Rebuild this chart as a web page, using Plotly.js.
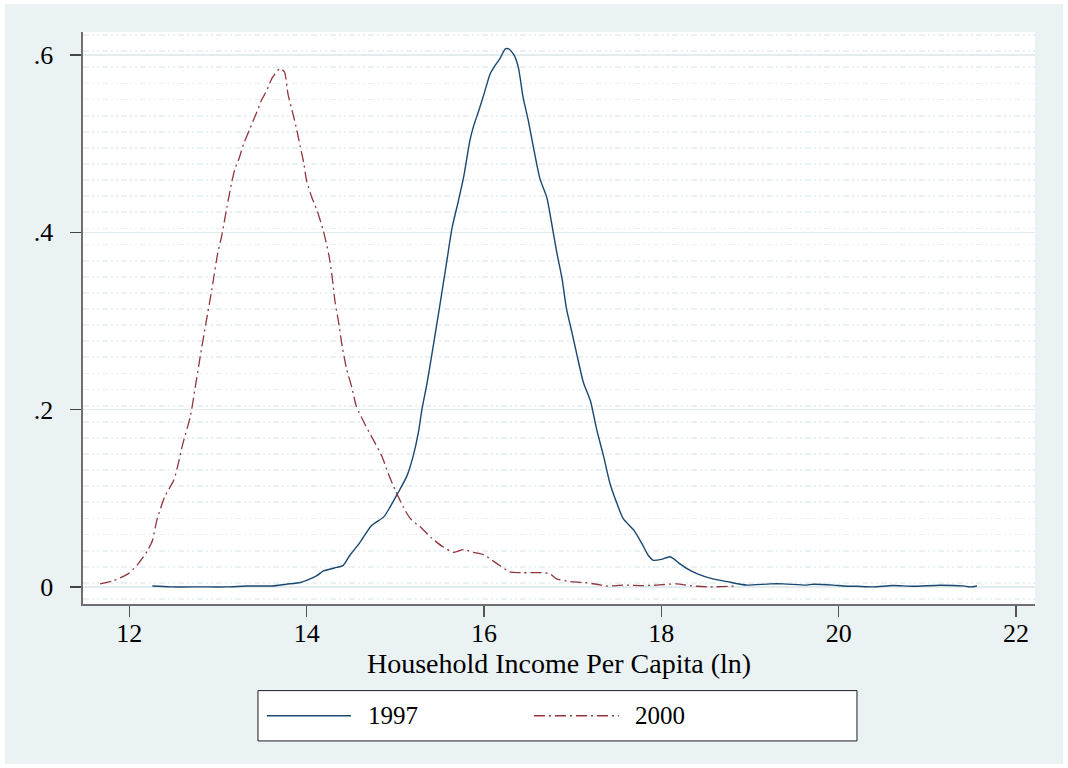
<!DOCTYPE html>
<html>
<head>
<meta charset="utf-8">
<script src="https://cdn.plot.ly/plotly-3.0.1.min.js"></script>
<style>
  html, body { margin: 0; padding: 0; background: #ffffff; }
  #chart { position: absolute; left: 5px; top: 4px; width: 1058px; height: 760px; }
</style>
</head>
<body>
<div id="chart"></div>
<script>
// ---- Data ----
const seriesNames = ['1997', '2000'];

const x1997 = [12.26, 12.46, 12.8, 13.1, 13.32, 13.55, 13.62, 13.77, 13.93, 14.04,
  14.12, 14.19, 14.34, 14.41, 14.49, 14.6, 14.73, 14.87, 14.94, 15.03,
  15.13, 15.2, 15.26, 15.3, 15.36, 15.41, 15.49, 15.58, 15.64, 15.71,
  15.77, 15.84, 15.88, 15.94, 16.0, 16.07, 16.13, 16.18, 16.24, 16.28,
  16.34, 16.39, 16.44, 16.5, 16.55, 16.63, 16.71, 16.76, 16.82, 16.88,
  16.93, 16.99, 17.05, 17.12, 17.2, 17.27, 17.35, 17.42, 17.5, 17.57,
  17.69, 17.78, 17.85, 17.91, 18.0, 18.1, 18.21, 18.3, 18.4, 18.58,
  18.74, 18.89, 18.97, 19.23, 19.38, 19.64, 19.71, 19.94, 20.05, 20.2,
  20.39, 20.61, 20.84, 21.14, 21.4, 21.48, 21.56];
const y1997 = [0.001, 0.0, 0.0, 0.0, 0.001, 0.001, 0.001, 0.003, 0.005, 0.009,
  0.013, 0.018, 0.022, 0.024, 0.036, 0.05, 0.069, 0.079, 0.09, 0.106,
  0.125, 0.147, 0.174, 0.2, 0.231, 0.261, 0.31, 0.367, 0.405, 0.435,
  0.462, 0.503, 0.519, 0.537, 0.556, 0.579, 0.589, 0.596, 0.607, 0.607,
  0.6, 0.585, 0.553, 0.526, 0.5, 0.461, 0.439, 0.412, 0.378, 0.348,
  0.314, 0.288, 0.261, 0.231, 0.21, 0.178, 0.147, 0.117, 0.094, 0.077,
  0.064, 0.049, 0.036, 0.03, 0.031, 0.034, 0.026, 0.02, 0.015, 0.009,
  0.006, 0.003, 0.002, 0.0034, 0.0034, 0.002, 0.003, 0.002, 0.001, 0.0007,
  0.0, 0.0015, 0.0007, 0.0019, 0.0011, 0.0, 0.001];

const x2000 = [11.67, 11.82, 11.99, 12.1, 12.2, 12.26, 12.31, 12.4, 12.5, 12.55,
  12.6, 12.69, 12.74, 12.8, 12.86, 12.93, 13.0, 13.04, 13.1, 13.15,
  13.19, 13.24, 13.29, 13.36, 13.44, 13.49, 13.55, 13.61, 13.7, 13.75,
  13.79, 13.85, 13.89, 13.93, 13.97, 14.0, 14.06, 14.12, 14.19, 14.25,
  14.29, 14.32, 14.36, 14.4, 14.45, 14.51, 14.56, 14.66, 14.73, 14.85,
  14.92, 15.0, 15.09, 15.17, 15.3, 15.41, 15.54, 15.66, 15.77, 15.88,
  16.0, 16.15, 16.29, 16.44, 16.63, 16.74, 16.82, 16.97, 17.12, 17.27,
  17.38, 17.57, 17.8, 17.95, 18.17, 18.35, 18.55, 18.85];
const y2000 = [0.0034, 0.007, 0.015, 0.026, 0.04, 0.052, 0.075, 0.102, 0.12, 0.138,
  0.16, 0.193, 0.223, 0.26, 0.295, 0.335, 0.378, 0.395, 0.428, 0.454,
  0.471, 0.484, 0.5, 0.517, 0.536, 0.549, 0.56, 0.574, 0.585, 0.581,
  0.556, 0.532, 0.515, 0.496, 0.477, 0.458, 0.439, 0.424, 0.401, 0.375,
  0.348, 0.322, 0.299, 0.272, 0.246, 0.225, 0.204, 0.183, 0.17, 0.147,
  0.128, 0.109, 0.09, 0.077, 0.066, 0.055, 0.045, 0.039, 0.042, 0.039,
  0.036, 0.026, 0.017, 0.016, 0.016, 0.015, 0.009, 0.006, 0.005, 0.003,
  0.001, 0.002, 0.0015, 0.002, 0.0034, 0.001, 0.0, 0.001];

const yTickVals = [0, 0.2, 0.4, 0.6];
const yTickText = ['0', '.2', '.4', '.6'];
const xTickVals = [12, 14, 16, 18, 20, 22];
const xTickText = ['12', '14', '16', '18', '20', '22'];
const xTitle = 'Household Income Per Capita (ln)';

// ---- Styling ----
const FONT = "'Liberation Serif', 'Times New Roman', serif";
const navy = '#1a476f';
const maroon = '#90353b';
const dashDot = '11px,4px,2px,4px';

const traces = [
  { x: x1997, y: y1997, name: seriesNames[0], type: 'scatter', mode: 'lines',
    line: { color: navy, width: 1.4, shape: 'spline', smoothing: 0.6 }, showlegend: false, hoverinfo: 'x+y+name' },
  { x: x2000, y: y2000, name: seriesNames[1], type: 'scatter', mode: 'lines',
    line: { color: maroon, width: 1.3, dash: dashDot, shape: 'spline', smoothing: 0.6 }, showlegend: false, hoverinfo: 'x+y+name' }
];

// Legend drawn as a boxed key below the plot (paper coordinates)
const legY = -0.1954;
const shapes = [
  { type: 'rect', xref: 'paper', yref: 'paper', x0: 0.1838, x1: 0.8130, y0: -0.2394, y1: -0.1514,
    line: { color: '#1e1e1e', width: 1 }, fillcolor: '#ffffff', layer: 'above' },
  { type: 'line', xref: 'paper', yref: 'paper', x0: 0.1933, x1: 0.2815, y0: legY, y1: legY,
    line: { color: navy, width: 1.4 }, layer: 'above' },
  { type: 'line', xref: 'paper', yref: 'paper', x0: 0.4737, x1: 0.5630, y0: legY, y1: legY,
    line: { color: maroon, width: 1.3, dash: dashDot }, layer: 'above' }
];
const annotations = [
  { xref: 'paper', yref: 'paper', x: 0.2973, y: legY, xanchor: 'left', yanchor: 'middle',
    text: seriesNames[0], showarrow: false, font: { family: FONT, size: 25, color: '#000' } },
  { xref: 'paper', yref: 'paper', x: 0.5777, y: legY, xanchor: 'left', yanchor: 'middle',
    text: seriesNames[1], showarrow: false, font: { family: FONT, size: 25, color: '#000' } }
];

const layout = {
  width: 1058, height: 760,
  paper_bgcolor: '#eaf2f3',
  plot_bgcolor: '#ffffff',
  margin: { l: 78, r: 28, t: 28, b: 160, pad: 0 },
  font: { family: FONT, size: 26, color: '#000' },
  showlegend: false,
  xaxis: {
    range: [11.478, 22.214],
    tickmode: 'array', tickvals: xTickVals, ticktext: xTickText,
    ticks: 'outside', ticklen: 11, tickwidth: 1.3, tickcolor: '#555',
    showline: true, linecolor: '#6e6e6e', linewidth: 1.6,
    showgrid: false, zeroline: false,
    ticklabelstandoff: -6,
    tickfont: { family: FONT, size: 26, color: '#000' },
    title: { text: xTitle, font: { family: FONT, size: 28, color: '#000' }, standoff: 0 },
    automargin: false
  },
  yaxis: {
    range: [-0.0193, 0.6261],
    tickmode: 'array', tickvals: yTickVals, ticktext: yTickText,
    ticks: 'outside', ticklen: 11, tickwidth: 1.3, tickcolor: '#444',
    showline: true, linecolor: '#6e6e6e', linewidth: 1.6,
    showgrid: true, gridcolor: '#e2ecef', gridwidth: 1.3,
    zeroline: false,
    ticklabelstandoff: 12,
    tickfont: { family: FONT, size: 26, color: '#000' },
    minor: { tick0: 0.0045, dtick: 0.01818, showgrid: true, gridcolor: '#eaf1f4',
             gridwidth: 1.8, griddash: '6px,3px,2px,3px,2px,3px', ticks: '' },
    automargin: false
  },
  shapes: shapes,
  annotations: annotations
};

Plotly.newPlot('chart', traces, layout, { displayModeBar: false, staticPlot: true });
</script>
</body>
</html>
